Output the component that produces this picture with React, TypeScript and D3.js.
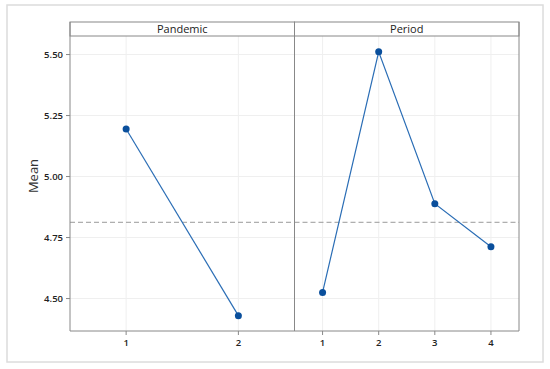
import React from 'react'
import * as d3 from 'd3'

const panels = ['Pandemic', 'Period']
const pandemicLevels = ['1', '2']
const pandemicMeans = [5.195, 4.43]
const periodLevels = ['1', '2', '3', '4']
const periodMeans = [4.525, 5.511, 4.889, 4.712]
const yTicks = [4.5, 4.75, 5.0, 5.25, 5.5]
const grandMean = 4.8125

const W = 550
const H = 369
const left = 70
const right = 519
const top = 22
const stripH = 14
const bottom = 331
const font = "'Open Sans', 'Noto Sans', sans-serif"

export default function App() {
  const y = d3.scaleLinear().domain([4.367, 5.576]).range([bottom, top + stripH])
  const panelW = (right - left) / 2
  const groups = [
    { name: panels[0], levels: pandemicLevels, means: pandemicMeans },
    { name: panels[1], levels: periodLevels, means: periodMeans },
  ]

  return (
    <svg width={W} height={H} style={{ position: 'absolute', left: 0, top: 0, background: '#fff' }}>
      <rect x={7} y={5} width={536} height={357} fill="#fff" stroke="#dcdcdc" strokeWidth={1.5} />
      {/* gridlines */}
      {yTicks.map((t) => (
        <line key={'gy' + t} x1={left} x2={right} y1={y(t)} y2={y(t)} stroke="#efefef" />
      ))}
      {groups.map((g, gi) => {
        const x0 = left + gi * panelW
        const x = d3.scalePoint().domain(g.levels).range([x0, x0 + panelW]).padding(0.5)
        const line = d3.line<number>().x((_, i) => x(g.levels[i])!).y((d) => y(d))
        return (
          <g key={g.name}>
            {g.levels.map((l) => (
              <line key={'gx' + l} x1={x(l)} x2={x(l)} y1={top + stripH} y2={bottom} stroke="#efefef" />
            ))}
            <line x1={x0} x2={x0 + panelW} y1={y(grandMean)} y2={y(grandMean)} stroke="#9a9a9a" strokeDasharray="5,3" />
            <path d={line(g.means)!} fill="none" stroke="#2a6db5" strokeWidth={1.2} />
            {g.means.map((m, i) => (
              <circle key={i} cx={x(g.levels[i])} cy={y(m)} r={3.5} fill="#0a4f9c" />
            ))}
            {g.levels.map((l) => (
              <g key={'t' + l}>
                <line x1={x(l)} x2={x(l)} y1={bottom} y2={bottom + 4} stroke="#888" />
                <text x={x(l)} y={bottom + 15} textAnchor="middle" fontSize={9.5} fontWeight={600} fontFamily={font} fill="#222">{l}</text>
              </g>
            ))}
            <rect x={x0} y={top} width={panelW} height={stripH} fill="#fff" stroke="#888" />
            <text x={x0 + panelW / 2} y={top + 11} textAnchor="middle" fontSize={11} fontFamily={font} fill="#222">{g.name}</text>
            <line x1={x0} x2={x0} y1={top} y2={bottom} stroke="#888" />
          </g>
        )
      })}
      <line x1={right} x2={right} y1={top} y2={bottom} stroke="#888" />
      <line x1={left} x2={right} y1={bottom} y2={bottom} stroke="#888" />
      {yTicks.map((t) => (
        <g key={'yt' + t}>
          <line x1={left - 4} x2={left} y1={y(t)} y2={y(t)} stroke="#888" />
          <text x={left - 7} y={y(t) + 3.5} textAnchor="end" fontSize={9.5} fontWeight={600} fontFamily={font} fill="#222">{d3.format('.2f')(t)}</text>
        </g>
      ))}
      <text transform={`translate(38,176) rotate(-90)`} textAnchor="middle" fontSize={13} fontFamily={font} fill="#333">Mean</text>
    </svg>
  )
}
